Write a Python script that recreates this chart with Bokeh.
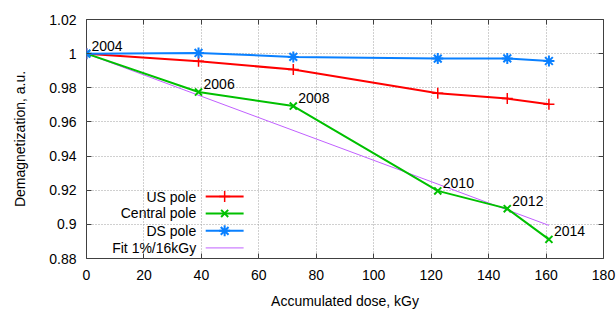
from bokeh.plotting import figure
from bokeh.models import LinearAxis, FixedTicker, Range1d, CustomJSTickFormatter
from bokeh.embed import file_html
from bokeh.resources import INLINE

# ---- data ----
dose = [0, 39, 72, 122.3, 146.5, 161]
us_pole = [1.0, 0.9955, 0.9907, 0.9768, 0.9737, 0.9704]
central_pole = [1.0, 0.9775, 0.9693, 0.9196, 0.9092, 0.8912]
ds_pole = [1.0, 1.0004, 0.9981, 0.9971, 0.9972, 0.9957]
years = ["2004", "2006", "2008", "2010", "2012", "2014"]
fit_dose = [0, 161]
fit_val = [1.0, 0.8994]

x_ticks = [0, 20, 40, 60, 80, 100, 120, 140, 160, 180]
y_ticks = [0.88, 0.90, 0.92, 0.94, 0.96, 0.98, 1.00, 1.02]
y_tick_labels = ["0.88", "0.9", "0.92", "0.94", "0.96", "0.98", "1", "1.02"]

legend_names = ["US pole", "Central pole", "DS pole", "Fit 1%/16kGy"]

FONT = "Liberation Sans"
RED, GREEN, BLUE, VIOLET = "#ff0000", "#00c000", "#0a80ff", "#c060ff"

p = figure(width=616, height=311, output_backend="svg", toolbar_location=None,
           x_range=Range1d(0, 180), y_range=Range1d(0.88, 1.02),
           min_border_left=86, min_border_right=13, min_border_top=19,
           min_border_bottom=52)
p.background_fill_color = "white"
p.outline_line_color = "#404040"
p.outline_line_width = 1

xt = FixedTicker(ticks=x_ticks)
yt = FixedTicker(ticks=y_ticks)
overrides = {t: l for t, l in zip(y_ticks, y_tick_labels)}

for ax, tk in ((p.xaxis[0], xt), (p.yaxis[0], yt)):
    ax.ticker = tk
    ax.major_tick_in = 5
    ax.major_tick_out = 0
    ax.minor_tick_line_color = None
    ax.axis_line_color = None
    ax.major_tick_line_color = "#404040"
    ax.major_label_text_font = FONT
    ax.major_label_text_font_size = "14px"
    ax.major_label_text_color = "black"
    ax.axis_label_text_font = FONT
    ax.axis_label_text_font_size = "14px"
    ax.axis_label_text_font_style = "normal"
    ax.axis_label_text_color = "black"

p.yaxis[0].major_label_overrides = overrides
p.xaxis[0].axis_label = "Accumulated dose, kGy"
p.yaxis[0].axis_label = "Demagnetization, a.u."
p.xaxis[0].major_label_standoff = 11
p.xaxis[0].axis_label_standoff = 10
p.yaxis[0].major_label_standoff = 10
p.yaxis[0].axis_label_standoff = 18

# mirror axes (ticks only)
for loc, tk in (("above", xt), ("right", yt)):
    ax = LinearAxis(ticker=tk, major_tick_in=5, major_tick_out=0,
                    minor_tick_line_color=None, axis_line_color=None,
                    major_tick_line_color="#404040",
                    formatter=CustomJSTickFormatter(code="return ''"),
                    major_label_standoff=0)
    p.add_layout(ax, loc)

p.xgrid[0].ticker = xt
p.ygrid[0].ticker = yt
for g in (p.xgrid[0], p.ygrid[0]):
    g.grid_line_color = "#a0a0a0"
    g.grid_line_dash = "1 2"
    g.grid_line_width = 1

# fit line
p.line(fit_dose, fit_val, line_color=VIOLET, line_width=1)
# series
p.line(dose, us_pole, line_color=RED, line_width=2)
p.scatter(dose, us_pole, marker="cross", size=11, line_color=RED, line_width=1.5)
p.line(dose, central_pole, line_color=GREEN, line_width=2)
p.scatter(dose, central_pole, marker="x", size=10, line_color=GREEN, line_width=2)
p.line(dose, ds_pole, line_color=BLUE, line_width=2)
p.scatter(dose, ds_pole, marker="asterisk", size=11, line_color=BLUE, line_width=2)

# year annotations
p.text(dose, central_pole, text=years, x_offset=5, y_offset=-3,
       text_font={"value": FONT}, text_font_size="14px", text_color="black",
       text_baseline="bottom", text_align="left")

# custom legend (gnuplot style: text right-aligned, sample to the right)
leg_text_x = 38.2
leg_x0, leg_x1, leg_xm = 41.5, 54.7, 48.1
leg_y = [0.9163, 0.9064, 0.8962, 0.8862]
p.text([leg_text_x] * 4, leg_y, text=legend_names,
       text_font={"value": FONT}, text_font_size="14px", text_color="black",
       text_baseline="middle", text_align="right")
cols = [RED, GREEN, BLUE, VIOLET]
widths = [2, 2, 2, 1]
for c, w, yy in zip(cols, widths, leg_y):
    p.line([leg_x0, leg_x1], [yy, yy], line_color=c, line_width=w)
p.scatter([leg_xm], [leg_y[0]], marker="cross", size=11, line_color=RED, line_width=1.5)
p.scatter([leg_xm], [leg_y[1]], marker="x", size=10, line_color=GREEN, line_width=2)
p.scatter([leg_xm], [leg_y[2]], marker="asterisk", size=11, line_color=BLUE, line_width=2)

open("out.html", "w").write(file_html(p, INLINE))
